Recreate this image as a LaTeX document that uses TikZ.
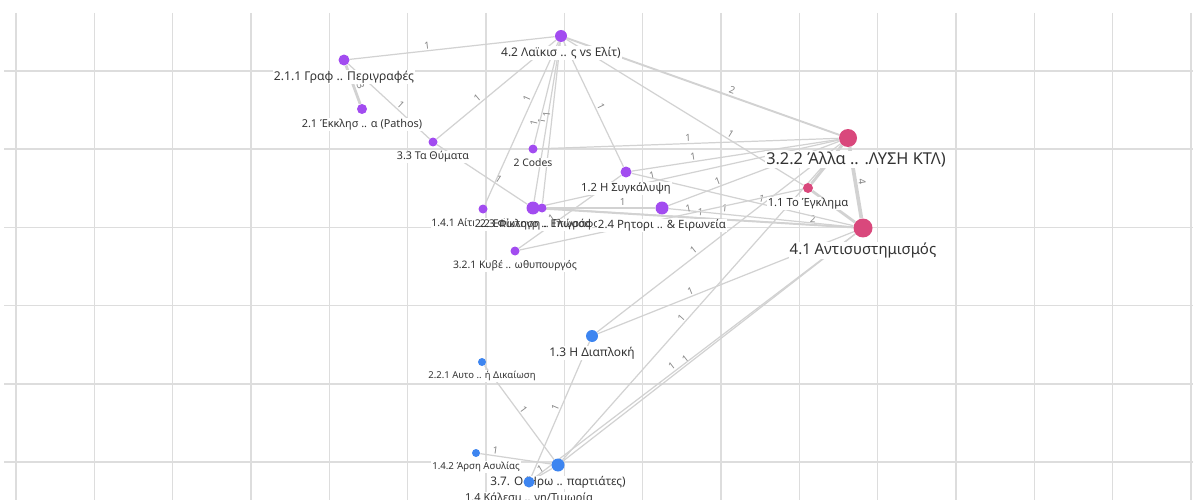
\documentclass[tikz,border=0pt]{standalone}
\usepackage{fontspec}
\setmainfont{Noto Sans}
\usetikzlibrary{positioning,backgrounds}

\definecolor{gridgray}{HTML}{DDDDDD}
\definecolor{linkgray}{HTML}{D2D2D2}
\definecolor{purp}{HTML}{A24CF0}
\definecolor{rose}{HTML}{D9487C}
\definecolor{azure}{HTML}{3D85F0}
\definecolor{txt}{HTML}{333333}
\definecolor{numgray}{HTML}{858585}

\begin{document}
\begin{tikzpicture}[x=0.02cm, y=-0.02cm, node distance=2pt,
  dot/.style={circle, inner sep=0pt, minimum size=#1},
  pdot/.style={dot=#1, fill=purp},
  rdot/.style={dot=#1, fill=rose},
  bdot/.style={dot=#1, fill=azure},
  lbl/.style={fill=white, text=txt, inner sep=0.5pt, font=\fontsize{#1}{#1}\selectfont},
  gridline/.style={draw=gridgray, line width=0.8pt},
  link/.style={draw=linkgray, line width=#1},
  elbl/.style={font=\fontsize{5.6}{6}\selectfont, text=numgray, sloped, above, inner sep=0.8pt}]
  \useasboundingbox (0,0) rectangle (1193,500);

  % purple group
  \node[pdot=.24cm] (n42) at (561,36) {};
  \node[lbl=6.8, below=of n42] (l42) {4.2 Λαϊκισ .. ς vs Ελίτ)};
  \node[pdot=.22cm] (n211) at (344,60) {};
  \node[lbl=6.9, below=of n211] (l211) {2.1.1 Γραφ .. Περιγραφές};
  \node[pdot=.20cm] (n21) at (362,109) {};
  \node[lbl=6.2, below=of n21] (l21) {2.1 Έκκλησ .. α (Pathos)};
  \node[pdot=.18cm] (n33) at (433,142) {};
  \node[lbl=6.1, below=of n33] (l33) {3.3 Τα Θύματα};
  \node[pdot=.18cm] (ncodes) at (533,149) {};
  \node[lbl=5.9, below=of ncodes] (lcodes) {2 Codes};
  \node[pdot=.22cm] (n12) at (626,172) {};
  \node[lbl=6.4, below=of n12] (l12) {1.2 Η Συγκάλυψη};
  \node[pdot=.18cm] (n141) at (483,209) {};
  \node[lbl=5.9, below=of n141] (l141) {1.4.1 Αίτηση .. Άρσης};
  \node[pdot=.26cm] (n22) at (533,208) {};
  \node[pdot=.18cm] (n23) at (542,208) {};
  \node[lbl=6.1, below=of n22] (l22) {2.2 Επίκληση .. Γλώσσα};
  \node[lbl=6.1, below=of n22, xshift=0.2cm, fill=none] (l23) {2.3 Φωτογρ .. Επιγράφου};
  \node[pdot=.26cm] (n24) at (662,208) {};
  \node[lbl=6.5, below=of n24] (l24) {2.4 Ρητορι .. \& Ειρωνεία};
  \node[pdot=.18cm] (n321) at (515,251) {};
  \node[lbl=5.9, below=of n321] (l321) {3.2.1 Κυβέ .. ωθυπουργός};

  % pink group
  \node[rdot=.36cm] (n322) at (848,138) {};
  \node[lbl=9.3, below=of n322, xshift=0.16cm] (l322) {3.2.2 Άλλα .. .ΛΥΣΗ ΚΤΛ)};
  \node[rdot=.20cm] (n11) at (808,188) {};
  \node[lbl=6.4, below=of n11] (l11) {1.1 Το Έγκλημα};
  \node[rdot=.38cm] (n41) at (863,228) {};
  \node[lbl=8.5, below=of n41] (l41) {4.1 Αντισυστημισμός};

  % blue group
  \node[bdot=.24cm] (n13) at (592,336) {};
  \node[lbl=6.8, below=of n13] (l13) {1.3 Η Διαπλοκή};
  \node[bdot=.16cm] (n221) at (482,362) {};
  \node[lbl=5.4, below=of n221] (l221) {2.2.1 Αυτο .. ή Δικαίωση};
  \node[bdot=.16cm] (n142) at (476,453) {};
  \node[lbl=5.5, below=of n142] (l142) {1.4.2 Άρση Ασυλίας};
  \node[bdot=.26cm] (n37) at (558,465) {};
  \node[lbl=6.7, below=of n37] (l37) {3.7. Ο Ήρω .. παρτιάτες)};
  \node[bdot=.22cm] (n14) at (529,482) {};
  \node[lbl=6.3, below=of n14] (l14) {1.4 Κάλεσμ .. νη/Τιμωρία};

  \begin{scope}[on background layer]
    \foreach \k in {0,...,15}
      \draw[gridline] ({16+78.33*\k},13) -- ({16+78.33*\k},500);
    \foreach \k in {0,...,5}
      \draw[gridline] (4,{71+78.2*\k}) -- (1193,{71+78.2*\k});

    % links
    \draw[link=.7pt] (n42) -- node[elbl, pos=.62] {1} (n211);
    \draw[link=.7pt] (n42) -- node[elbl, pos=.63] {1} (n33);
    \draw[link=.7pt] (n42) -- node[elbl, pos=.36] {1} (n141);
    \draw[link=.7pt] (n42) -- node[elbl, pos=.5] {1} (n22);
    \draw[link=.7pt] (n42) -- node[elbl, pos=.8] {1} (ncodes);
    \draw[link=.7pt] (n42) -- node[elbl, pos=.45] {1} (n23);
    \draw[link=.7pt] (n42) -- node[elbl, pos=.54] {1} (n12);
    \draw[link=1.1pt] (n42) -- node[elbl, pos=.6] {2} (n322);
    \draw[link=.7pt] (n42) -- node[elbl, pos=.68] {1} (n11);
    \draw[link=1.6pt] (n211) -- node[elbl, pos=.6] {3} (n21);
    \draw[link=.7pt] (n211) -- node[elbl, pos=.6] {1} (n33);
    \draw[link=.7pt] (n33) -- node[elbl, pos=.65] {1} (n22);
    \draw[link=.7pt] (ncodes) -- node[elbl, pos=.5] {1} (n322);
    \draw[link=.7pt] (n12) -- node[elbl, pos=.3] {1} (n322);
    \draw[link=.7pt] (n24) -- node[elbl, pos=.3] {1} (n322);
    \draw[link=.7pt] (n22) -- node[elbl, pos=.38] {1} (n322);
    \draw[link=.7pt] (n23) -- node[elbl, pos=.7] {1} (n24);
    \draw[link=.7pt] (n23) -- node[elbl, pos=.5] {1} (n41);
    \draw[link=1.1pt] (n22) -- node[elbl, pos=.87] {2} (n41);
    \draw[link=.7pt] (n12) -- node[elbl, pos=.58] {1} (n41);
    \draw[link=.7pt] (n24) -- node[elbl, pos=.3] {1} (n41);
    \draw[link=.7pt] (n321) -- node[elbl, pos=.35] {1} (n12);
    \draw[link=.7pt] (n321) -- node[elbl, pos=.6] {1} (n11);
    \draw[link=1.6pt] (n11) -- node[elbl, pos=.4] {3} (n322);
    \draw[link=1.6pt] (n11) -- node[elbl, pos=.6] {3} (n41);
    \draw[link=2.1pt] (n322) -- node[elbl, pos=.5] {4} (n41);
    \draw[link=.7pt] (n13) -- node[elbl, pos=.41] {1} (n322);
    \draw[link=.7pt] (n13) -- node[elbl, pos=.37] {1} (n41);
    \draw[link=.7pt] (n37) -- node[elbl, pos=.44] {1} (n322);
    \draw[link=.7pt] (n37) -- node[elbl, pos=.43] {1} (n41);
    \draw[link=.7pt] (n14) -- node[elbl, pos=.44] {1} (n41);
    \draw[link=.7pt] (n14) -- node[elbl, pos=.5] {1} (n13);
    \draw[link=.7pt] (n221) -- node[elbl, pos=.5] {1} (n37);
    \draw[link=.7pt] (n142) -- node[elbl, pos=.2] {1} (n37);
    \draw[link=.7pt] (n14) -- node[elbl, pos=.5] {1} (n37);
  \end{scope}
\end{tikzpicture}
\end{document}
